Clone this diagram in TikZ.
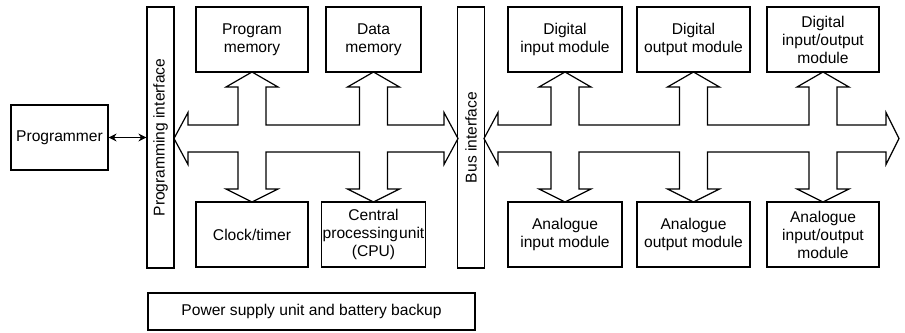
\documentclass[tikz,border=0pt]{standalone}
\usepackage{fontspec}
\setmainfont{Liberation Sans}
\usetikzlibrary{arrows.meta}

\begin{document}
\begin{tikzpicture}[x=0.75pt,y=-0.75pt]
\tikzset{
  box/.style={draw,line width=0.9pt,minimum height=48.75pt,inner sep=1pt,align=center,
    font=\fontsize{11.7}{13.5}\selectfont},
  bar/.style={draw,line width=0.9pt,rotate=90,minimum width=195.75pt,minimum height=20.25pt,
    inner sep=1pt,font=\fontsize{11.7}{13.5}\selectfont},
  bus/.style={draw,line width=0.9pt,fill=white,line join=miter},
  link/.style={{Stealth[length=6pt,width=6pt]}-{Stealth[length=6pt,width=6pt]},line width=0.9pt}
}
\useasboundingbox (0,0) rectangle (905,332);
% buses
\draw[bus] (174,138.5) -- (188,112.5) -- (188,125)
  \foreach \c in {252,373.5} { -- (\c-14,125) -- (\c-14,87) -- (\c-26,87) -- (\c,72)
    -- (\c+26,87) -- (\c+14,87) -- (\c+14,125) }
  -- (444,125) -- (444,112.5) -- (458,138.5) -- (444,164.5) -- (444,152)
  \foreach \c in {373.5,252} { -- (\c+14,152) -- (\c+14,189) -- (\c+26,189) -- (\c,202)
    -- (\c-26,189) -- (\c-14,189) -- (\c-14,152) }
  -- (188,152) -- (188,164.5) -- cycle;
\draw[bus] (484,138.5) -- (498,112.5) -- (498,125)
  \foreach \c in {565,693.5,823} { -- (\c-14,125) -- (\c-14,87) -- (\c-26,87) -- (\c,72)
    -- (\c+26,87) -- (\c+14,87) -- (\c+14,125) }
  -- (886,125) -- (886,112.5) -- (899,138.5) -- (886,164.5) -- (886,152)
  \foreach \c in {823,693.5,565} { -- (\c+14,152) -- (\c+14,189) -- (\c+26,189) -- (\c,202)
    -- (\c-26,189) -- (\c-14,189) -- (\c-14,152) }
  -- (498,152) -- (498,164.5) -- cycle;
% boxes
\node[box,minimum width=72.75pt] (n_prog) at (59.5,137.5) {Programmer};
\node[bar] (n_progif) at (160.5,137.5) {Programming interface};
\node[bar] (n_busif) at (471,137.5) {Bus interface};
\node[box,minimum width=84pt] (n_pmem) at (252,39.5) {Program\\memory};
\node[box,minimum width=84pt] (n_clock) at (252,234.5) {Clock/timer};
\node[box,minimum width=71.25pt] (n_dmem) at (373.5,39.5) {Data\\memory};
\node[box,minimum width=71.25pt] (n_cpu) at (373.5,234.5) {Central\\processing\kern0.8pt unit\\(CPU)};
\node[box,minimum width=85.5pt] (n_din) at (565,39.5) {Digital\\input module};
\node[box,minimum width=85.5pt] (n_ain) at (565,234.5) {Analogue\\input module};
\node[box,minimum width=84.75pt] (n_dout) at (693.5,39.5) {Digital\\output module};
\node[box,minimum width=84.75pt] (n_aout) at (693.5,234.5) {Analogue\\output module};
\node[box,minimum width=84pt] (n_dio) at (823,39.5) {Digital\\input/output\\module};
\node[box,minimum width=84pt] (n_aio) at (823,234.5) {Analogue\\input/output\\module};
\node[box,minimum width=245.25pt,minimum height=27.75pt] (n_psu) at (311.5,311.5)
  {Power supply unit and battery backup};
\draw[link] (n_prog) -- (n_progif);
\end{tikzpicture}
\end{document}
